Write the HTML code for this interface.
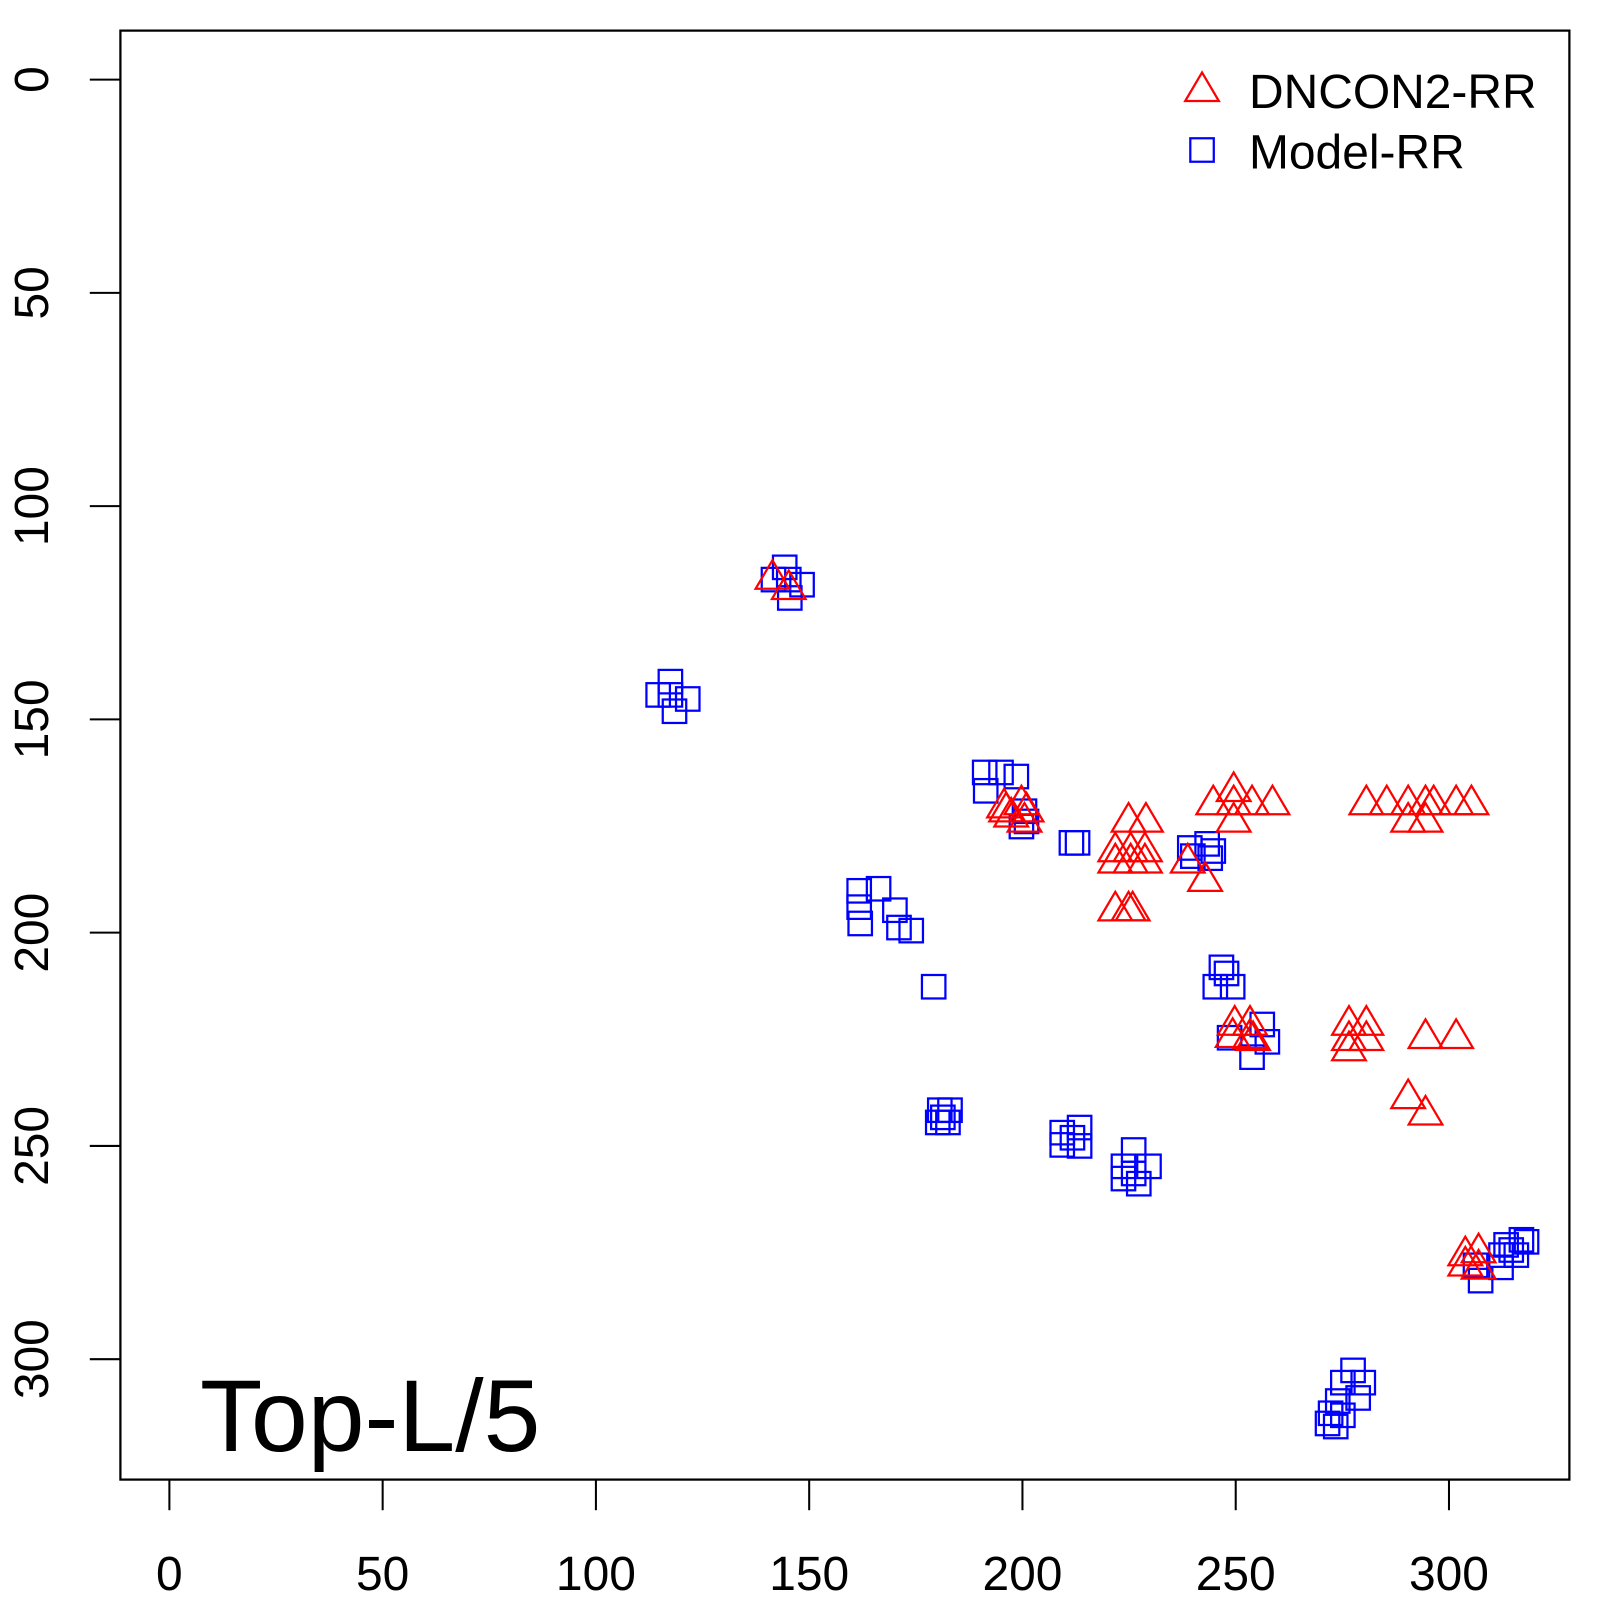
<!DOCTYPE html>
<html><head><meta charset="utf-8"><style>html,body{margin:0;padding:0;background:#fff}svg{display:block}</style></head>
<body>
<svg id="s" width="1600" height="1600" viewBox="0 0 1568 1568" xmlns="http://www.w3.org/2000/svg" font-family="Liberation Sans, sans-serif">
<rect x="0" y="0" width="1568" height="1568" fill="#fff"/>
<rect x="118" y="30" width="1420" height="1420" fill="none" stroke="#000" stroke-width="2.2"/>
<g stroke="#000" stroke-width="2">
<line x1="166" y1="1450" x2="166" y2="1480"/><line x1="375" y1="1450" x2="375" y2="1480"/><line x1="584" y1="1450" x2="584" y2="1480"/><line x1="793" y1="1450" x2="793" y2="1480"/><line x1="1002" y1="1450" x2="1002" y2="1480"/><line x1="1211" y1="1450" x2="1211" y2="1480"/><line x1="1420" y1="1450" x2="1420" y2="1480"/>
<line x1="88" y1="78" x2="118" y2="78"/><line x1="88" y1="287" x2="118" y2="287"/><line x1="88" y1="496" x2="118" y2="496"/><line x1="88" y1="705" x2="118" y2="705"/><line x1="88" y1="914" x2="118" y2="914"/><line x1="88" y1="1123" x2="118" y2="1123"/><line x1="88" y1="1332" x2="118" y2="1332"/>
</g>
<g font-size="47" text-anchor="middle" fill="#000">
<text x="166" y="1558">0</text><text x="375" y="1558">50</text><text x="584" y="1558">100</text><text x="793" y="1558">150</text><text x="1002" y="1558">200</text><text x="1211" y="1558">250</text><text x="1420" y="1558">300</text>
<text transform="translate(47,78) rotate(-90)">0</text>
<text transform="translate(47,287) rotate(-90)">50</text>
<text transform="translate(47,496) rotate(-90)">100</text>
<text transform="translate(47,705) rotate(-90)">150</text>
<text transform="translate(47,914) rotate(-90)">200</text>
<text transform="translate(47,1123) rotate(-90)">250</text>
<text transform="translate(47,1332) rotate(-90)">300</text>
</g>
<text x="196" y="1422" font-size="100" fill="#000">Top-L/5</text>
<text x="1224" y="106" font-size="47" fill="#000">DNCON2-RR</text>
<text x="1224" y="165" font-size="47" fill="#000">Model-RR</text>
<g id="m" fill="none" stroke-width="2.2" transform="translate(6,5)"></g>
</svg>
<script>
var sq=[[1172,142,1],
[763,551],[752,563],[767,563],[780,568],[768,581],
[651,663],[639,676],[651,676],[668,680],[655,692],
[959,752],[975,752],[990,756],[960,770],[998,790],[1000,800],[995,805],
[1044,821],[1050,821],
[836,868],[855,866],[836,884],[837,900],[871,887],[875,904],[887,907],[909,962],
[1160,826],[1177,822],[1183,829],[1163,834],[1180,836],
[1191,943],[1185,962],[1202,962],[1196,949],
[1231,999],[1236,1016],[1221,1031],[1199,1012],
[915,1083],[925,1083],[913,1095],[923,1095],[918,1090],
[1035,1105],[1052,1100],[1035,1117],[1052,1118],[1045,1110],
[1105,1122],[1095,1138],[1120,1138],[1095,1150],[1110,1155],[1105,1145],
[1440,1235],[1445,1250],[1465,1225],[1470,1215],[1485,1210],[1480,1225],[1465,1237],[1490,1212],[1475,1220],
[1320,1338],[1310,1350],[1330,1350],[1325,1365],[1305,1368],[1310,1382],[1295,1390],[1303,1393],[1298,1380]];
var tr=[[1172,84],
[751,562],[767,572],
[978,786],[995,783],[1000,790],[985,795],[998,800],[980,790],
[1100,800],[1117,800],[1087,829],[1102,829],[1116,829],[1087,840],[1102,840],[1116,840],[1087,887],[1100,887],[1104,887],
[1158,840],[1175,858],
[1183,783],[1203,770],[1203,783],[1221,783],[1241,783],[1203,800],
[1333,783],[1353,783],[1374,783],[1391,783],[1399,783],[1421,783],[1436,783],[1374,800],[1391,800],
[1204,999],[1219,999],[1202,1011],[1219,1012],[1222,1014],
[1316,999],[1333,999],[1316,1014],[1333,1014],[1316,1024],[1391,1012],[1421,1012],[1374,1071],[1391,1087],
[1430,1225],[1443,1222],[1430,1235],[1443,1238]];
var g=document.getElementById('m'),h='';
sq.forEach(function(p){h+='<rect x="'+(p[0]-11.5)+'" y="'+(p[1]-11.5)+'" width="23" height="23" stroke="#0000ff"/>';});
tr.forEach(function(p){var x=p[0],y=p[1];h+='<polygon points="'+(x-16.5)+','+(y+10)+' '+(x+16.5)+','+(y+10)+' '+x+','+(y-18)+'" stroke="#ff0000"/>';});
g.innerHTML=h;
</script>
</body></html>
